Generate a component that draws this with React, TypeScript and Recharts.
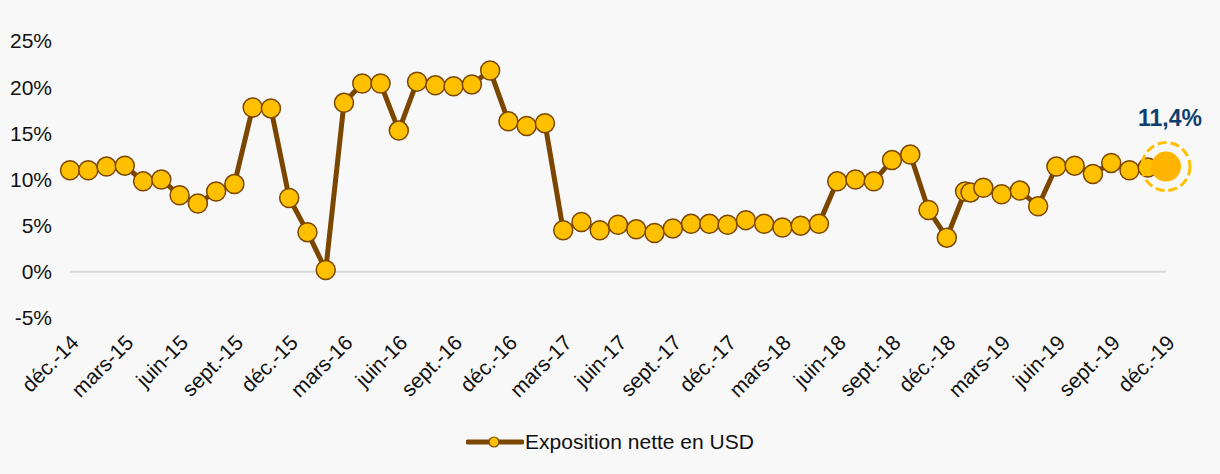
import React from 'react';
import { LineChart, Line, XAxis, YAxis, ReferenceLine, Legend } from 'recharts';

// position in months from déc.-14 (one extra reading sits just after janv.-19)
const monthPos = [
  0, 1, 2, 3, 4, 5, 6, 7, 8, 9, 10, 11, 12, 13, 14, 15, 16, 17, 18, 19, 20,
  21, 22, 23, 24, 25, 26, 27, 28, 29, 30, 31, 32, 33, 34, 35, 36, 37, 38, 39, 40,
  41, 42, 43, 44, 45, 46, 47, 48, 49, 49.3, 50, 51, 52, 53, 54, 55, 56, 57, 58, 59, 60,
];

const exposition = [
  11.0, 11.0, 11.4, 11.5, 9.8, 10.0, 8.3, 7.4, 8.7, 9.5, 17.8, 17.7, 8.0, 4.3, 0.2, 18.3, 20.4, 20.4, 15.3, 20.6, 20.2,
  20.1, 20.3, 21.8, 16.3, 15.8, 16.1, 4.5, 5.4, 4.5, 5.1, 4.6, 4.2, 4.7, 5.2, 5.2, 5.1, 5.6, 5.2, 4.8, 5.0,
  5.2, 9.8, 10.0, 9.8, 12.1, 12.7, 6.7, 3.7, 8.7, 8.6, 9.1, 8.4, 8.8, 7.1, 11.4, 11.5, 10.6, 11.8, 11.0, 11.3, 11.4,
];

const tickLabels = [
  'déc.-14', 'mars-15', 'juin-15', 'sept.-15', 'déc.-15', 'mars-16', 'juin-16', 'sept.-16', 'déc.-16', 'mars-17',
  'juin-17', 'sept.-17', 'déc.-17', 'mars-18', 'juin-18', 'sept.-18', 'déc.-18', 'mars-19', 'juin-19', 'sept.-19', 'déc.-19',
];
const tickPos = tickLabels.map((_, i) => i * 3);
const yTicks = [-5, 0, 5, 10, 15, 20, 25];

const data = monthPos.map((m, i) => ({ m, v: exposition[i] }));
const lastIndex = data.length - 1;

const BROWN = '#7a4600';
const GOLD = '#ffc000';
const FONT = '"Liberation Sans", Arial, sans-serif';

function Dot(props: any) {
  const { cx, cy, index } = props;
  if (index === lastIndex) {
    return (
      <g>
        <circle cx={cx} cy={cy} r={24} fill="none" stroke={GOLD} strokeWidth={3} strokeDasharray="9 4" />
        <circle cx={cx} cy={cy} r={15} fill="#ffb400" />
        <text x={cx + 4} y={cy - 41} textAnchor="middle" fontSize={23} fontWeight="bold" fill="#0e3f6e" fontFamily={FONT}>
          11,4%
        </text>
      </g>
    );
  }
  return <circle cx={cx} cy={cy} r={9.5} fill={GOLD} stroke={BROWN} strokeWidth={1.5} />;
}

function MonthTick(props: any) {
  const { x, y, payload } = props;
  const ax = x + 10;
  const ay = y + 18;
  return (
    <text x={ax} y={ay} transform={`rotate(-45, ${ax}, ${ay})`} textAnchor="end" fontSize={21} fill="#111" fontFamily={FONT}>
      {tickLabels[payload.value / 3]}
    </text>
  );
}

function LegendContent() {
  return (
    <div style={{ display: 'flex', justifyContent: 'center', alignItems: 'center', fontFamily: FONT, fontSize: 21, color: '#111' }}>
      <svg width={58} height={14} style={{ marginRight: 1 }}>
        <line x1={2} y1={7} x2={56} y2={7} stroke={BROWN} strokeWidth={5} strokeLinecap="round" />
        <circle cx={28} cy={7} r={5} fill={GOLD} stroke={BROWN} strokeWidth={1.2} />
      </svg>
      <span>Exposition nette en USD</span>
    </div>
  );
}

export default function App() {
  return (
    <div style={{ position: 'fixed', left: 0, top: 0, width: 1220, height: 474, background: '#f8f8f8' }}>
      <LineChart width={1220} height={474} data={data} margin={{ top: 41, right: 54, left: 0, bottom: 0 }}>
        <XAxis
          dataKey="m"
          type="number"
          domain={[0, 60]}
          ticks={tickPos}
          interval={0}
          axisLine={false}
          tickLine={false}
          height={156}
          tick={<MonthTick />}
        />
        <YAxis
          domain={[-5, 25]}
          ticks={yTicks}
          width={70}
          axisLine={false}
          tickLine={false}
          tickMargin={12}
          tickFormatter={(v: number) => `${v}%`}
          tick={{ fontSize: 21, fill: '#111', fontFamily: FONT }}
        />
        <ReferenceLine y={0} stroke="#d9d9d9" strokeWidth={2} />
        <Legend verticalAlign="middle" align="center" wrapperStyle={{ top: 430, left: 0, width: 1220 }} content={<LegendContent />} />
        <Line
          dataKey="v"
          stroke={BROWN}
          strokeWidth={5}
          dot={<Dot />}
          activeDot={false}
          isAnimationActive={false}
        />
      </LineChart>
    </div>
  );
}
